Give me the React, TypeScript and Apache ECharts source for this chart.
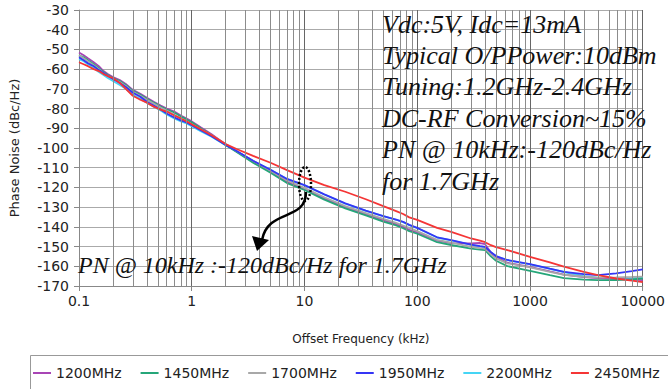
import React, { useEffect, useRef } from "react";
import * as echarts from "echarts";

const freqs = [0.1, 0.11, 0.12, 0.135, 0.15, 0.165, 0.18, 0.2, 0.23, 0.26, 0.3, 0.35, 0.4, 0.46, 0.53, 0.6, 0.7, 0.8, 0.9, 1, 1.2, 1.5, 2, 2.5, 3.5, 5, 7, 10, 15, 23, 35, 50, 65, 75, 85, 100, 150, 200, 300, 360, 400, 450, 500, 630, 1000, 1500, 2000, 3000, 4000, 5800, 8000, 10000];

const pn1200 = [-51.5, -53, -54.5, -56.5, -58.5, -61, -62.5, -64, -65.5, -67.5, -70.5, -72.5, -74.5, -76.5, -78.5, -80, -81.5, -83.5, -85, -86.5, -89.5, -93, -98.2, -101.8, -107, -112, -117.2, -120.8, -125.6, -130, -133.6, -136.6, -138.6, -140, -141.5, -142.8, -147, -148.3, -148.4, -148.2, -148.8, -153, -155.2, -158.2, -160.3, -162.6, -164.2, -165.5, -166, -166.5, -166.8, -167];
const pn1450 = [-53, -54, -55.5, -57.5, -59.5, -61.5, -63, -64.5, -66, -68, -71, -73, -75, -77, -79, -80.5, -82, -84, -85.5, -87, -90, -93.5, -98.5, -102, -107.5, -112.5, -117.8, -121.3, -126.2, -130.6, -134.2, -137.3, -139.3, -140.7, -142.2, -143.5, -147.8, -149.2, -151, -151.6, -151.8, -155, -157.2, -159.9, -162.3, -164.5, -166, -166.8, -167, -167, -166.6, -166.2];
const pn1700 = [-53, -54.5, -56, -58, -60, -62, -63.5, -65, -66.5, -68.5, -71.5, -73.5, -75.5, -77.5, -79.5, -81, -83, -85, -86.5, -88, -90.5, -93.5, -98, -101.5, -106.5, -111.5, -116.5, -120.2, -125, -129.5, -133, -136, -138, -139.3, -140.5, -142.2, -146.6, -148, -150.2, -150.8, -151, -154, -156, -158.5, -160.6, -162.8, -164.3, -165.3, -165.8, -165.6, -165.4, -165.2];
const pn1950 = [-54, -55.5, -57, -58.5, -60.5, -62, -63.5, -65, -67, -69, -72, -74, -76.5, -78.5, -80.5, -82.5, -84.5, -86, -87, -88.5, -91, -94, -98.5, -101.5, -106.5, -111, -115.7, -118.8, -123.5, -128.1, -131.8, -134.5, -136.3, -137.5, -139, -140.5, -145.3, -146.7, -149, -149.8, -150.2, -152.8, -154.8, -156.8, -158.9, -161.2, -162.8, -164, -164.5, -163.6, -162.5, -161.6];
const pn2200 = [-55, -56, -57.5, -59.5, -61.5, -63, -64.5, -66, -68, -70, -73, -75, -77, -79, -81, -83, -85, -86.5, -87.5, -89, -91.5, -94.3, -98.6, -101.6, -106.6, -111.1, -115.8, -118.9, -123.6, -128.2, -131.9, -134.6, -136.4, -137.6, -139.1, -140.6, -145.4, -146.8, -149.1, -149.9, -150.3, -152.9, -154.9, -156.9, -159, -161.3, -162.9, -165, -165.8, -166.2, -166, -165.8];
const pn2450 = [-56.5, -57.5, -58.5, -60, -61, -62.5, -63.5, -64.5, -67, -70, -73.5, -75.5, -77, -79, -80.5, -81.5, -83.5, -85, -86.5, -88, -90.5, -93.5, -98, -100.5, -104, -107.5, -111.2, -115, -118.8, -122.2, -126, -129.5, -132, -133.5, -135.2, -136.5, -140.5, -142.5, -145.9, -147, -147.8, -149.3, -150.3, -151.8, -155.2, -158, -160.2, -162.8, -164.5, -166.2, -167.3, -168];

const seriesNames = ["1200MHz", "1450MHz", "1700MHz", "1950MHz", "2200MHz", "2450MHz"];
const seriesValues = [pn1200, pn1450, pn1700, pn1950, pn2200, pn2450];
const seriesColors = ["#a845b5", "#25a679", "#a8a8a8", "#3535f5", "#45d5f5", "#f53535"];
const seriesZ = [3, 3, 3, 3, 2, 4];

const xTickValues = [0.1, 1, 10, 100, 1000, 10000];
const minorMultipliers = [2, 3, 4, 5, 6, 7, 8, 9];

const infoLines = [
  "Vdc:5V, Idc=13mA",
  "Typical O/PPower:10dBm",
  "Tuning:1.2GHz-2.4GHz",
  "DC-RF Conversion~15%",
  "PN @ 10kHz:-120dBc/Hz",
  "for 1.7GHz",
];
const noteText = "PN @ 10kHz :-120dBc/Hz for 1.7GHz";

export default function App() {
  const ref = useRef<HTMLDivElement>(null);
  useEffect(() => {
    if (!ref.current) return;
    const chart = echarts.init(ref.current, null, { renderer: "svg" });
    const minorVals: number[] = [];
    for (let i = 0; i < xTickValues.length - 1; i++) {
      for (const m of minorMultipliers) minorVals.push(xTickValues[i] * m);
    }
    const serif = "italic 26px 'Liberation Serif', serif";
    const graphic: any[] = [];
    infoLines.forEach((t, i) => {
      graphic.push({
        type: "text",
        x: 382,
        y: 24 + i * 31.4,
        style: { text: t, font: serif, fill: "#111", textVerticalAlign: "middle" },
        z: 100,
      });
    });
    graphic.push({
      type: "text",
      x: 78,
      y: 265,
      style: { text: noteText, font: "italic 24px 'Liberation Serif', serif", fill: "#111", textVerticalAlign: "middle" },
      z: 100,
    });
    graphic.push({
      type: "ellipse",
      shape: { cx: 305, cy: 184, rx: 6, ry: 17 },
      style: { fill: "none", stroke: "#000", lineWidth: 2.5, lineDash: [2, 2] },
      z: 100,
    });
    graphic.push({
      type: "bezierCurve",
      shape: { x1: 306, y1: 192, cpx1: 306, cpy1: 222, cpx2: 268, cpy2: 208, x2: 262, y2: 240 },
      style: { fill: "none", stroke: "#000", lineWidth: 2.5 },
      z: 100,
    });
    graphic.push({
      type: "polygon",
      shape: { points: [[257, 251], [252, 236], [269, 240]] },
      style: { fill: "#000" },
      z: 100,
    });
    graphic.push({
      type: "rect",
      shape: { x: 30.5, y: 355.5, width: 700, height: 60 },
      style: { fill: "none", stroke: "#999", lineWidth: 1 },
      z: 50,
    });

    const series: any[] = seriesNames.map((name, i) => ({
      name,
      type: "line",
      data: freqs.map((f, j) => [f, seriesValues[i][j]]),
      showSymbol: false,
      symbol: "none",
      lineStyle: { color: seriesColors[i], width: 1.8 },
      itemStyle: { color: seriesColors[i] },
      z: seriesZ[i],
    }));
    series.unshift({
      name: "grid",
      type: "line",
      data: [],
      z: 1,
      markLine: {
        silent: true,
        symbol: ["none", "none"],
        label: { show: false },
        lineStyle: { color: "#8c8c8c", width: 1, type: "solid" },
        data: minorVals.map((v) => ({ xAxis: v })),
        animation: false,
      },
    });

    chart.setOption({
      animation: false,
      grid: { left: 75, right: 11, top: 10, bottom: 103, containLabel: false },
      xAxis: {
        type: "log",
        logBase: 10,
        min: 0.1,
        max: 10000,
        name: "Offset Frequency (kHz)",
        nameLocation: "middle",
        nameGap: 47,
        nameTextStyle: { fontFamily: "DejaVu Sans", fontSize: 12, color: "#222" },
        axisLine: { show: true, lineStyle: { color: "#888" } },
        axisTick: { show: true, length: 5, lineStyle: { color: "#888" } },
        axisLabel: {
          fontFamily: "DejaVu Sans",
          fontSize: 14,
          color: "#222",
          margin: 8,
          formatter: (v: number) => (v < 1 ? v.toFixed(1) : String(Math.round(v))),
        },
        splitLine: { show: true, lineStyle: { color: "#666", width: 1 } },
      },
      yAxis: {
        type: "value",
        min: -170,
        max: -30,
        interval: 10,
        name: "Phase Noise (dBc/Hz)",
        nameLocation: "middle",
        nameGap: 58,
        nameTextStyle: { fontFamily: "DejaVu Sans", fontSize: 13, color: "#222" },
        axisLine: { show: true, lineStyle: { color: "#888" } },
        axisTick: { show: true, length: 5, lineStyle: { color: "#888" } },
        axisLabel: { fontFamily: "DejaVu Sans", fontSize: 14, color: "#222", margin: 10 },
        splitLine: { show: true, lineStyle: { color: "#aaa", width: 1 } },
      },
      legend: {
        data: seriesNames,
        left: 33,
        right: 0,
        top: 366,
        padding: 0,
        icon: "rect",
        itemWidth: 18,
        itemHeight: 2,
        itemGap: 19,
        textStyle: { fontFamily: "DejaVu Sans", fontSize: 14, color: "#222" },
      },
      graphic,
      series,
    });
    return () => chart.dispose();
  }, []);
  return <div ref={ref} style={{ width: 668, height: 389, position: "absolute", left: 0, top: 0 }} />;
}
